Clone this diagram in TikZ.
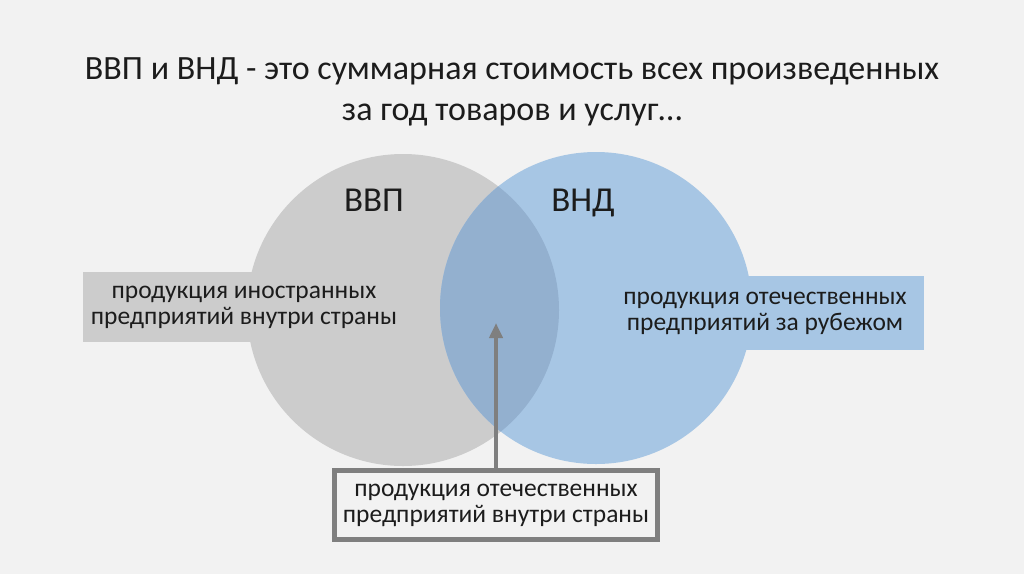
\documentclass[tikz,border=0pt]{standalone}
\usepackage{fontspec}
\setmainfont{Carlito}
\usetikzlibrary{arrows.meta,positioning}
\definecolor{page}{RGB}{242,242,242}
\definecolor{gdpgray}{RGB}{204,204,204}
\definecolor{gniblue}{RGB}{167,198,228}
\definecolor{both}{RGB}{147,176,207}
\definecolor{frame}{RGB}{127,127,127}
\definecolor{ink}{RGB}{28,28,28}
\begin{document}
\begin{tikzpicture}[x=1pt, y=-1pt,
  ring/.style={circle, inner sep=0pt, minimum size=312pt},
  lb/.style={minimum width=323pt, minimum height=70pt, inner sep=0pt, align=center,
             text=ink, font=\fontsize{25.5}{26}\selectfont},
  head/.style={anchor=base, text=ink, font=\fontsize{35}{42}\selectfont},
  ar/.style={-{Triangle[length=15pt, width=13pt]}, line width=4pt, draw=frame}]
\fill[page] (0,0) rectangle (1024,574);
\useasboundingbox (0,0) rectangle (1024,574);
% the two circles and their overlap
\node[ring, fill=gdpgray] (gdp) at (403,310) {};
\node[ring, fill=gniblue] (gni) at (596,308) {};
\begin{scope}
  \clip (gdp.center) circle[radius=156pt];
  \fill[both] (gni.center) circle[radius=156pt];
\end{scope}
\node[text=ink, align=center, font=\fontsize{34}{41}\selectfont] (title) at (512,92)
  {ВВП и ВНД - это суммарная стоимость всех произведенных\\за год товаров и услуг…};
\node[head] (gdplabel) at (374,211) {ВВП};
\node[head] (gnilabel) at (583,211) {ВНД};
% label boxes
\node[lb, fill=gdpgray] (foreign) at (244,307) {продукция иностранных\\предприятий внутри страны};
\node[lb, fill=gniblue, minimum width=318pt, minimum height=74pt] (abroad) at (765,313)
  {продукция отечественных\\предприятий за рубежом};
\node[lb, draw=frame, line width=5pt, fill=page, minimum height=69pt] (domestic) at (496,505)
  {продукция отечественных\\предприятий внутри страны};
\coordinate (tip) at (496,323);
\draw[ar] (domestic.north) -- (tip);
\end{tikzpicture}
\end{document}
